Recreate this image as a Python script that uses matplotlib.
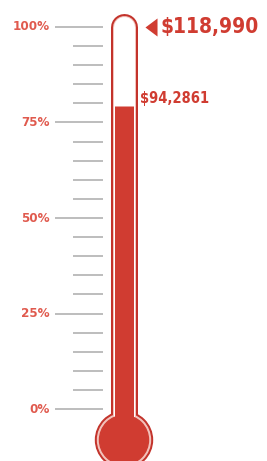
import numpy as np
from matplotlib import pyplot as plt
from matplotlib.patches import Ellipse

# Data
goal = 118990
raised = 94286
goal_label = '$118,990'
raised_label = '$94,2861'
major_ticks = [0, 25, 50, 75, 100]
major_labels = ['0%', '25%', '50%', '75%', '100%']
minor_ticks = [5, 10, 15, 20, 30, 35, 40, 45, 55, 60, 65, 70, 80, 85, 90, 95]

# Styling
dpi = 100
W, H = 267, 461
px_per_pct = 3.82          # vertical pixels per percent
zero_px = 409              # pixel row of 0%
tube_x = 124
bulb_y = -8.1
dark_red = '#c3332b'
fill_red = '#d03c31'
ring = '#f3c4bd'
label_red = '#e05a4e'
tick_grey = '#b3b3b3'
font = ['DejaVu Sans']
txt = dict(fontweight='bold', fontstretch='condensed', family=font)

def pt(px):
    return px * 72 / dpi

fig = plt.figure(figsize=(W / dpi, H / dpi), dpi=dpi)
ax = fig.add_axes([0, 0, 1, 1])
ax.set_xlim(0, W)
ax.set_ylim(-(H - zero_px) / px_per_pct, zero_px / px_per_pct)
ax.axis('off')

# Scale ticks
ax.hlines(major_ticks, 55, 103, color=tick_grey, lw=pt(1.7))
ax.hlines(minor_ticks, 73, 103, color=tick_grey, lw=pt(1.7))
for v, lab in zip(major_ticks, major_labels):
    ax.text(50, v, lab, ha='right', va='center', fontsize=9.5,
            color=label_red, **txt)

# Thermometer body
def bulb(d, c, z):
    ax.add_patch(Ellipse((tube_x, bulb_y), d, d / px_per_pct, color=c, zorder=z))

ax.plot([tube_x, tube_x], [bulb_y, 100], color=dark_red, lw=pt(27),
        solid_capstyle='round', zorder=2)
bulb(57, dark_red, 2)
ax.plot([tube_x, tube_x], [bulb_y, 100], color=ring, lw=pt(23),
        solid_capstyle='round', zorder=3)
bulb(53, ring, 3)
ax.plot([tube_x, tube_x], [bulb_y, 100], color='white', lw=pt(21),
        solid_capstyle='round', zorder=3)

# Level
pct = raised / goal * 100
ax.plot([tube_x, tube_x], [bulb_y, pct], color=fill_red, lw=pt(19),
        solid_capstyle='butt', zorder=4)
bulb(49, fill_red, 4)

# Annotations
ax.plot(151, 100, marker=[(1, 1.5), (1, -1.5), (-1, 0)], ms=13,
        color=fill_red, mec='none')
ax.text(161, 100, goal_label, ha='left', va='center', fontsize=15,
        color=fill_red, **txt)
ax.text(140, pct + 2, raised_label, ha='left', va='center', fontsize=10.5,
        color=fill_red, **txt)

fig.savefig('out.png', dpi=dpi)
